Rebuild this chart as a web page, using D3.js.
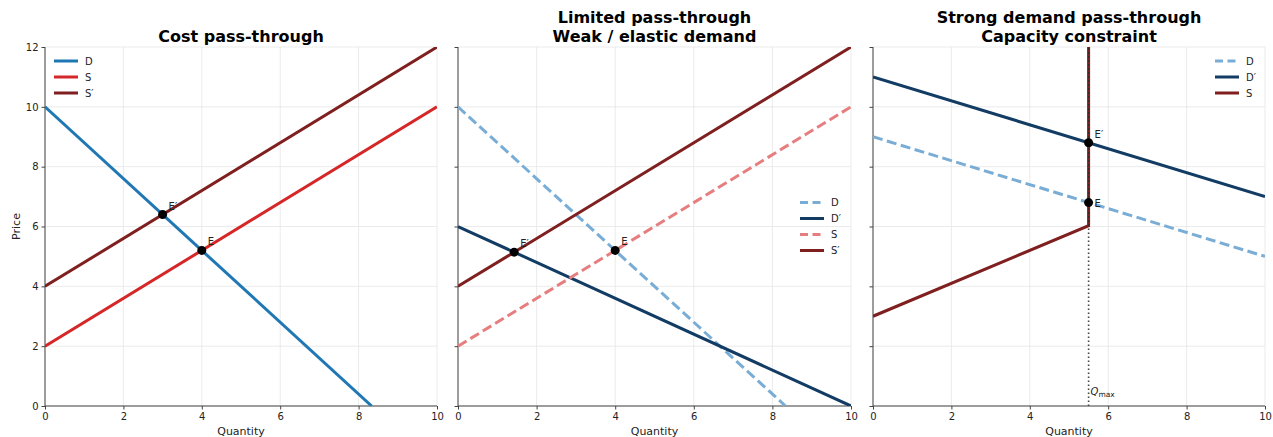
<!DOCTYPE html>
<html>
<head>
<meta charset="utf-8">
<script src="https://cdn.jsdelivr.net/npm/d3@7"></script>
<style>
body { margin: 0; background: #fff; font-family: "DejaVu Sans", sans-serif; }
</style>
</head>
<body>
<div id="chart"></div>
<script>
// values
const xTicks = [0, 2, 4, 6, 8, 10];
const yTicks = [0, 2, 4, 6, 8, 10, 12];
const titles = [
    ["Cost pass-through"],
    ["Limited pass-through", "Weak / elastic demand"],
    ["Strong demand pass-through", "Capacity constraint"]
];
// panel 1
const demand1 = [[0, 10], [8.333, 0]];
const supply1 = [[0, 2], [10, 10]];
const supplyShift1 = [[0, 4], [10, 12]];
const points1 = [[4, 5.2, "E"], [3, 6.4, "E′"]];
// panel 2
const demand2 = [[0, 10], [8.333, 0]];
const demandShift2 = [[0, 6], [10, 0]];
const supply2 = [[0, 2], [10, 10]];
const supplyShift2 = [[0, 4], [10, 12]];
const points2 = [[4, 5.2, "E"], [1.429, 5.143, "E′"]];
// panel 3
const demand3 = [[0, 9], [10, 5]];
const demandShift3 = [[0, 11], [10, 7]];
const supply3 = [[0, 3], [5.5, 6.025], [5.5, 12.5]];
const qMax = 5.5;
const points3 = [[5.5, 6.8, "E"], [5.5, 8.8, "E′"]];

const colD = "#1f77b4", colS = "#d62728", colS2 = "#7f1f1f", colD2 = "#133c64";
const colDl = "#79add6", colSl = "#e67e7f";

const panels = [
    {x0: 45, x1: 437, legend: {pos: "tl"}, series: [
        {name: "D", data: demand1, color: colD},
        {name: "S", data: supply1, color: colS},
        {name: "S′", data: supplyShift1, color: colS2}
    ], points: points1, labelDy: [-5, -5], ylab: true},
    {x0: 458, x1: 851, legend: {pos: "cr"}, series: [
        {name: "D", data: demand2, color: colDl, dash: true},
        {name: "D′", data: demandShift2, color: colD2},
        {name: "S", data: supply2, color: colSl, dash: true},
        {name: "S′", data: supplyShift2, color: colS2}
    ], points: points2, labelDy: [-5, -5]},
    {x0: 873, x1: 1265, legend: {pos: "tr"}, series: [
        {name: "D", data: demand3, color: colDl, dash: true},
        {name: "D′", data: demandShift3, color: colD2},
        {name: "S", data: supply3, color: colS2}
    ], points: points3, labelDy: [4, -5], qmax: qMax}
];

const W = 1273, H = 437, plotTop = 47, plotBottom = 406;
const svg = d3.select("#chart").append("svg")
    .attr("width", W).attr("height", H)
    .style("font-family", "'DejaVu Sans', sans-serif");

const defs = svg.append("defs");

panels.forEach((p, pi) => {
    const x = d3.scaleLinear().domain([0, 10]).range([p.x0, p.x1]);
    const y = d3.scaleLinear().domain([0, 12]).range([plotBottom, plotTop]);
    const g = svg.append("g");

    defs.append("clipPath").attr("id", "clip" + pi)
        .append("rect").attr("x", p.x0).attr("y", plotTop)
        .attr("width", p.x1 - p.x0).attr("height", plotBottom - plotTop);

    // grid
    g.selectAll(".gx").data(xTicks).join("line")
        .attr("x1", d => x(d)).attr("x2", d => x(d))
        .attr("y1", plotTop).attr("y2", plotBottom)
        .attr("stroke", "#e6e6e6").attr("stroke-width", 0.8);
    g.selectAll(".gy").data(yTicks).join("line")
        .attr("x1", p.x0).attr("x2", p.x1)
        .attr("y1", d => y(d)).attr("y2", d => y(d))
        .attr("stroke", "#e6e6e6").attr("stroke-width", 0.8);

    // axes
    const ax = g.append("g").attr("transform", "translate(0," + plotBottom + ")")
        .call(d3.axisBottom(x).tickValues(xTicks).tickSize(3.5).tickPadding(3).tickFormat(d3.format("d")));
    const ay = g.append("g").attr("transform", "translate(" + p.x0 + ",0)")
        .call(d3.axisLeft(y).tickValues(yTicks).tickSize(3.5).tickPadding(3)
            .tickFormat(p.ylab ? d3.format("d") : ""));
    [ax, ay].forEach(a => {
        a.select(".domain").attr("stroke", "#444").attr("stroke-width", 1);
        a.selectAll(".tick line").attr("stroke", "#444");
        a.selectAll("text").attr("font-size", 10).attr("fill", "#222")
            .style("font-family", "'DejaVu Sans', sans-serif");
    });
    // remove the outer-tick caps
    ax.select(".domain").attr("d", "M" + p.x0 + ",0H" + p.x1);
    ay.select(".domain").attr("d", "M0," + plotTop + "V" + plotBottom);

    g.append("text").attr("x", (p.x0 + p.x1) / 2).attr("y", 435)
        .attr("text-anchor", "middle").attr("font-size", 11).attr("fill", "#222")
        .text("Quantity");
    if (p.ylab) {
        g.append("text").attr("transform", "translate(20," + (plotTop + plotBottom) / 2 + ") rotate(-90)")
            .attr("text-anchor", "middle").attr("font-size", 11).attr("fill", "#222")
            .text("Price");
    }

    // title
    const t = titles[pi];
    t.forEach((line, i) => {
        g.append("text").attr("x", (p.x0 + p.x1) / 2)
            .attr("y", 42 - (t.length - 1 - i) * 19)
            .attr("text-anchor", "middle").attr("font-size", 16).attr("font-weight", "bold")
            .attr("fill", "#000").text(line);
    });

    const plot = g.append("g").attr("clip-path", "url(#clip" + pi + ")");
    const line = d3.line().x(d => x(d[0])).y(d => y(d[1]));

    if (p.qmax !== undefined) {
        plot.append("path").datum([[p.qmax, 0], [p.qmax, 12]])
            .attr("d", line).attr("fill", "none")
            .attr("stroke", "#444").attr("stroke-width", 1.6).attr("stroke-dasharray", "1.6,2.4");
    }

    plot.selectAll(".series").data(p.series).join("path")
        .attr("d", d => line(d.data))
        .attr("fill", "none")
        .attr("stroke", d => d.color)
        .attr("stroke-width", 3)
        .attr("stroke-dasharray", d => d.dash ? "10,4.5" : null);

    if (p.qmax !== undefined) {
        plot.append("path").datum([[p.qmax, 6.025], [p.qmax, 12]])
            .attr("d", line).attr("fill", "none")
            .attr("stroke", "#2a2a2a").attr("stroke-width", 1.3).attr("stroke-dasharray", "1.6,2.4");
        g.append("text").attr("x", x(p.qmax) + 2).attr("y", plotBottom - 11)
            .attr("font-size", 10).attr("fill", "#222")
            .call(tx => {
                tx.append("tspan").attr("font-style", "italic").text("Q");
                tx.append("tspan").attr("font-size", 7.5).attr("dy", 2).text("max");
            });
    }

    // equilibrium points
    g.selectAll(".pt").data(p.points).join("circle")
        .attr("cx", d => x(d[0])).attr("cy", d => y(d[1])).attr("r", 4.5)
        .attr("fill", "#000");
    g.selectAll(".pl").data(p.points).join("text")
        .attr("x", d => x(d[0]) + 6).attr("y", (d, i) => y(d[1]) + p.labelDy[i])
        .attr("font-size", 10).attr("fill", "#222")
        .text(d => d[2]);

    // legend
    const n = p.series.length;
    let lx, ly;
    if (p.legend.pos === "tl") { lx = p.x0 + 9; ly = 61; }
    else if (p.legend.pos === "tr") { lx = p.x1 - 50; ly = 61; }
    else { lx = p.x1 - 51; ly = (plotTop + plotBottom) / 2 - (n - 1) * 16 / 2; }
    const lg = g.selectAll(".lg").data(p.series).join("g")
        .attr("transform", (d, i) => "translate(" + lx + "," + (ly + i * 16) + ")");
    lg.append("line").attr("x1", 0).attr("x2", 24).attr("y1", 0).attr("y2", 0)
        .attr("stroke", d => d.color).attr("stroke-width", 3)
        .attr("stroke-dasharray", d => d.dash ? "8,4.5" : null);
    lg.append("text").attr("x", 31).attr("y", 3.5).attr("font-size", 10).attr("fill", "#222")
        .text(d => d.name);
});
</script>
</body>
</html>
